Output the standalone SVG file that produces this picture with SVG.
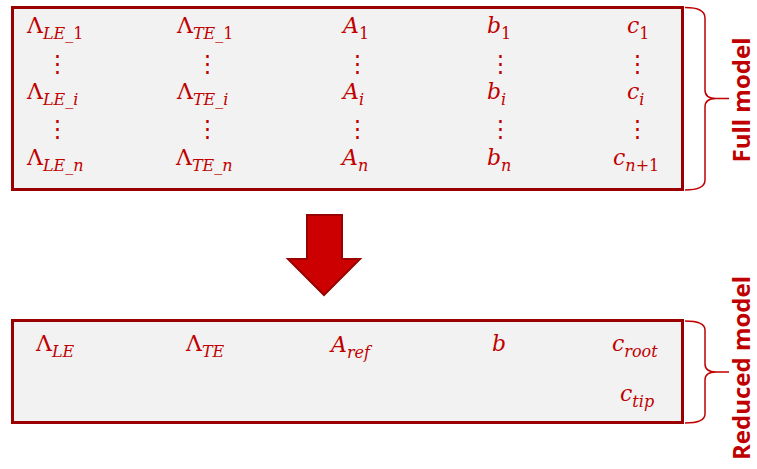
<svg xmlns="http://www.w3.org/2000/svg" width="757" height="469" viewBox="0 0 757 469">
<style>
.box{fill:#f2f2f2;stroke:#9a0000;stroke-width:3}
.m{font-family:"DejaVu Serif","Liberation Serif",serif;font-size:22px;fill:#c00000;font-style:italic}
.g{font-style:normal}
.s{font-size:16px}
.u{font-style:normal}
.d{font-family:"DejaVu Serif",serif;font-size:23px;fill:#c00000;text-anchor:middle}
.brace{fill:none;stroke:#c00000;stroke-width:1.5}
.lbl{font-family:"Open Sans","Liberation Sans",sans-serif;font-weight:bold;font-size:24px;fill:#c00000;text-anchor:middle}
</style>
<g id="full-model">
<rect class="box" x="12.5" y="7.5" width="670" height="182"/>
<text class="m" x="27" y="33"><tspan class="g">Λ</tspan><tspan class="s" dy="6">LE_</tspan><tspan class="s u">1</tspan></text>
<text class="m" x="177" y="33"><tspan class="g">Λ</tspan><tspan class="s" dy="6">TE_</tspan><tspan class="s u">1</tspan></text>
<text class="m" x="343" y="33">A<tspan class="s u" dy="6">1</tspan></text>
<text class="m" x="487" y="33">b<tspan class="s u" dy="6">1</tspan></text>
<text class="m" x="627" y="33">c<tspan class="s u" dy="6">1</tspan></text>
<text class="d" x="57" y="71">⋮</text>
<text class="d" x="207" y="71">⋮</text>
<text class="d" x="357" y="71">⋮</text>
<text class="d" x="500" y="71">⋮</text>
<text class="d" x="637" y="71">⋮</text>
<text class="m" x="27" y="99"><tspan class="g">Λ</tspan><tspan class="s" dy="6">LE_i</tspan></text>
<text class="m" x="177" y="99"><tspan class="g">Λ</tspan><tspan class="s" dy="6">TE_i</tspan></text>
<text class="m" x="343" y="99">A<tspan class="s" dy="6">i</tspan></text>
<text class="m" x="487" y="99">b<tspan class="s" dy="6">i</tspan></text>
<text class="m" x="627" y="99">c<tspan class="s" dy="6">i</tspan></text>
<text class="d" x="57" y="136">⋮</text>
<text class="d" x="207" y="136">⋮</text>
<text class="d" x="357" y="136">⋮</text>
<text class="d" x="500" y="136">⋮</text>
<text class="d" x="637" y="136">⋮</text>
<text class="m" x="27" y="165"><tspan class="g">Λ</tspan><tspan class="s" dy="6">LE_n</tspan></text>
<text class="m" x="176" y="165"><tspan class="g">Λ</tspan><tspan class="s" dy="6">TE_n</tspan></text>
<text class="m" x="342" y="165">A<tspan class="s" dy="6">n</tspan></text>
<text class="m" x="487" y="165">b<tspan class="s" dy="6">n</tspan></text>
<text class="m" x="613" y="165">c<tspan class="s" dy="6">n</tspan><tspan class="s u">+1</tspan></text>
</g>
<g id="reduced-model">
<rect class="box" x="12.5" y="320.5" width="670" height="102"/>
<text class="m" x="36" y="351"><tspan class="g">Λ</tspan><tspan class="s" dy="6">LE</tspan></text>
<text class="m" x="186" y="351"><tspan class="g">Λ</tspan><tspan class="s" dy="6">TE</tspan></text>
<text class="m" x="331" y="352">A<tspan class="s" dy="6">ref</tspan></text>
<text class="m" x="492" y="351">b</text>
<text class="m" x="612" y="351">c<tspan class="s" dy="6">root</tspan></text>
<text class="m" x="620" y="401">c<tspan class="s" dy="6">tip</tspan></text>
</g>
<g id="full-label">
<path class="brace" d="M685,7.5 Q705,7.5 705,18 L705,90 Q705,98.5 716,98.5 L729,98.5 M716,98.5 Q705,98.5 705,107 L705,180 Q705,190 685,190"/>
<text class="lbl" transform="translate(750,100) rotate(-90)">Full model</text>
</g>
<g id="reduced-label">
<path class="brace" d="M685,321 Q705,321 705,330 L705,364 Q705,372 716,372 L729,372 M716,372 Q705,372 705,380 L705,414 Q705,423 685,423"/>
<text class="lbl" transform="translate(750,368) rotate(-90)">Reduced model</text>
</g>
<g id="connectors">
<polygon points="307,215 342,215 342,259 360,259 324,295 288,259 307,259" fill="#cc0000" stroke="#990000" stroke-width="2" stroke-linejoin="miter"/>
</g>
</svg>
